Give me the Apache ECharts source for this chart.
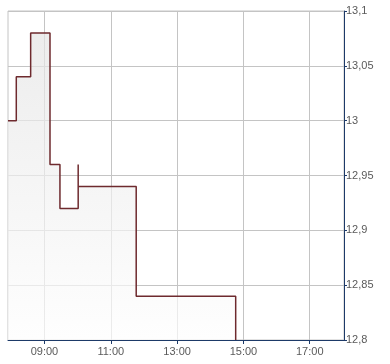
<!DOCTYPE html>
<html>
<head>
<meta charset="utf-8">
<script src="https://cdn.jsdelivr.net/npm/echarts@6/dist/echarts.min.js"></script>
<style>html,body{margin:0;padding:0;background:#fff}#c{width:390px;height:364px}</style>
</head>
<body>
<div id="c"></div>
<script>
var times = ['07:54','08:09','08:35','09:10','09:28','10:01','10:01','11:46','14:46'];
var prices = [13.00, 13.04, 13.08, 12.96, 12.92, 12.96, 12.94, 12.84, 12.80];
var xTickLabels = ['09:00','11:00','13:00','15:00','17:00'];
var xRange = ['07:54','18:02'];
var yTicks = [12.8, 13.1, 0.05];

function toMin(s){var p=s.split(':');return (+p[0])*60+(+p[1]);}
function toLabel(m){var h=Math.floor(m/60),mm=Math.round(m%60);return (h<10?'0':'')+h+':'+(mm<10?'0':'')+mm;}
var data = times.map(function(t,i){return [toMin(t), prices[i]];});
var xTicks = xTickLabels.map(toMin);

var chart = echarts.init(document.getElementById('c'), null, {renderer:'canvas'});
var font = '"Liberation Sans", Arial, sans-serif';
chart.setOption({
  animation:false,
  grid:{left:8,right:46,top:11,bottom:24,show:true,borderColor:'#c4c4c4',borderWidth:1,backgroundColor:'transparent'},
  xAxis:{
    type:'value',min:toMin(xRange[0]),max:toMin(xRange[1]),
    axisLine:{show:true,onZero:false,lineStyle:{color:'#1d3a68',width:1}},
    axisTick:{show:true,length:4,customValues:xTicks,lineStyle:{color:'#1d3a68'}},
    axisLabel:{customValues:xTicks,formatter:function(v){return toLabel(v);},color:'#5a5a5a',fontSize:11,fontFamily:font,margin:6},
    splitLine:{show:true,lineStyle:{color:'#c4c4c4',width:1}}
  },
  yAxis:{
    type:'value',position:'right',min:yTicks[0],max:yTicks[1],interval:yTicks[2],
    axisLine:{show:true,lineStyle:{color:'#1d3a68',width:1}},
    axisTick:{show:true,length:3,lineStyle:{color:'#1d3a68'}},
    axisLabel:{formatter:function(v){return String(+v.toFixed(2)).replace('.',',');},color:'#5a5a5a',fontSize:11,fontFamily:font,margin:2},
    splitLine:{show:true,lineStyle:{color:'#c4c4c4',width:1}}
  },
  series:[{
    type:'line',step:'end',data:data,symbol:'none',clip:true,
    lineStyle:{color:'#6e2a2e',width:1.5},
    areaStyle:{origin:'start',color:new echarts.graphic.LinearGradient(0,0,0,1,[{offset:0,color:'#e4e4e4'},{offset:1,color:'#fdfdfd'}])}
  }]
});
</script>
</body>
</html>
